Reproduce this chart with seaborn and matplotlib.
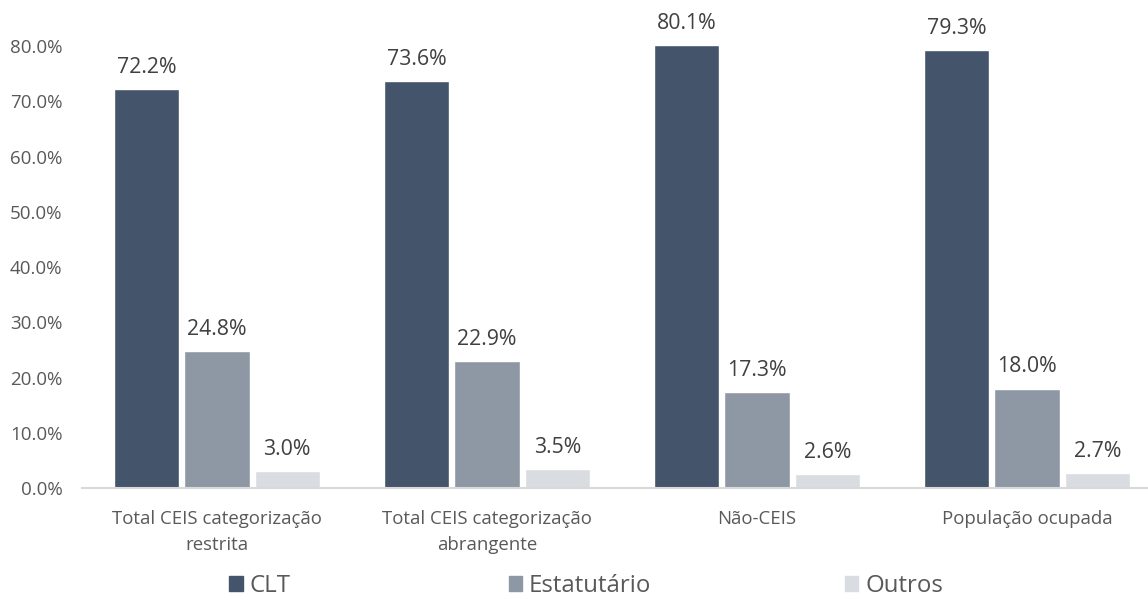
import pandas as pd
import numpy as np
import matplotlib.pyplot as plt
import seaborn as sns

categorias = ['Total CEIS categorização\nrestrita', 'Total CEIS categorização\nabrangente',
              'Não-CEIS', 'População ocupada']
clt = [72.2, 73.6, 80.1, 79.3]
estatutario = [24.8, 22.9, 17.3, 18.0]
outros = [3.0, 3.5, 2.6, 2.7]
series = ['CLT', 'Estatutário', 'Outros']
cores = ['#44546A', '#8E98A5', '#D9DCE0']

df = pd.DataFrame({
    'categoria': categorias * 3,
    'tipo': np.repeat(series, len(categorias)),
    'valor': clt + estatutario + outros,
})

sns.set_style('white')
plt.rcParams['font.family'] = ['Open Sans', 'DejaVu Sans']

fig = plt.figure(figsize=(11.48, 5.98), dpi=100)
ax = fig.add_axes([82/1148, 1 - 488/598, 1080/1148, (488 - 18.4)/598])

sns.barplot(data=df, x='categoria', y='valor', hue='tipo', palette=cores,
            width=0.78, gap=0.07, ax=ax, legend=False, saturation=1)

for c in ax.containers:
    ax.bar_label(c, labels=[f'{v:.1f}%' for v in c.datavalues],
                 padding=8, fontsize=15.3, color='#404040')

ax.set_ylim(0, 85)
ax.set_xlim(-0.5, 3.5)
ax.set_yticks(np.arange(0, 81, 10))
ax.set_yticklabels([f'{t:.1f}%' for t in np.arange(0, 81, 10)])
ax.set_xlabel('')
ax.set_ylabel('')
ax.tick_params(axis='y', length=0, pad=14, labelsize=13.5, labelcolor='#595959')
ax.tick_params(axis='x', length=0, pad=16, labelsize=13.4, labelcolor='#595959')
for t in ax.get_xticklabels():
    t.set_linespacing(1.55)

for s in ['top', 'right', 'left']:
    ax.spines[s].set_visible(False)
ax.spines['bottom'].set_color('#D9D9D9')
ax.spines['bottom'].set_linewidth(1.5)

# legenda: uma entrada por posição, como no Excel
centros = [260, 580, 894]
for nome, cor, cx in zip(series, cores, centros):
    h = plt.Rectangle((0, 0), 1, 1, color=cor)
    fig.legend([h], [nome], loc='center', bbox_to_anchor=(cx/1148, 1 - 586/598),
               frameon=False, fontsize=17.3, handlelength=0.55, handleheight=0.55,
               handletextpad=0.3, labelcolor='#595959', borderpad=0)

fig.savefig('out.png', dpi=100)
